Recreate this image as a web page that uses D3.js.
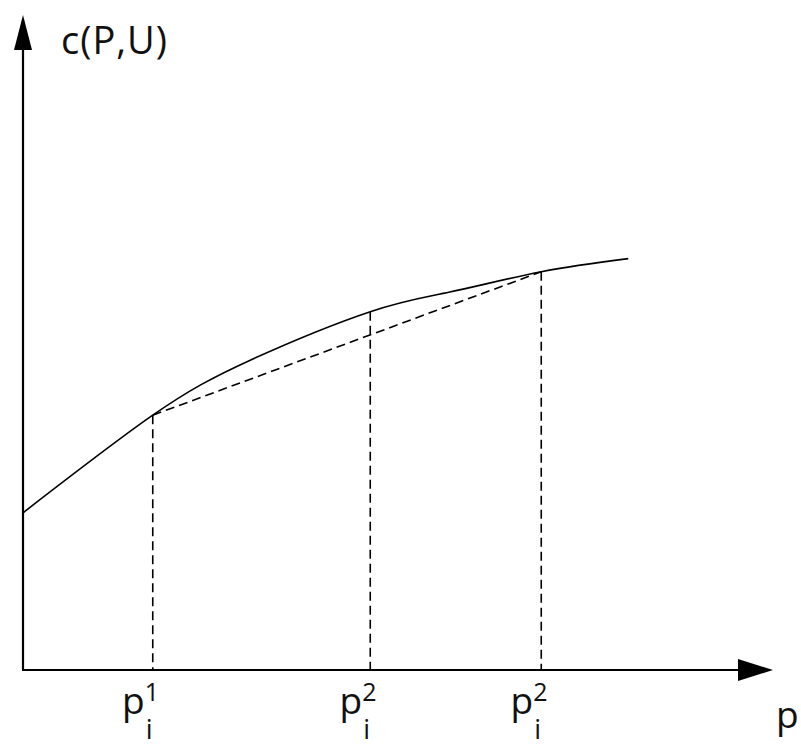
<!DOCTYPE html>
<html>
<head>
<meta charset="utf-8">
<script src="https://cdn.jsdelivr.net/npm/d3@7"></script>
<style>
  body { margin: 0; background: #fff; }
  text { font-family: "Open Sans", sans-serif; fill: #111; }
</style>
</head>
<body>
<div id="chart"></div>
<script>
var width = 801,
    height = 755;

// curve c(P,U)
var curveP = [0, 17.3, 30.3, 46.3, 56.9, 69.1, 80.7];
var curveC = [24.0, 38.9, 47.3, 54.7, 57.7, 60.8, 62.8];

// marked prices on the p axis
var markP = [17.3, 46.3, 69.1];
var markC = [38.9, 54.7, 60.8];
var markSup = ["1", "2", "2"];
var markSub = ["i", "i", "i"];

var yLabel = "c(P,U)",
    xLabel = "p";

var x = d3.scaleLinear().domain([0, 100]).range([23, 773]);
var y = d3.scaleLinear().domain([0, 100]).range([670, 15]);

var svg = d3.select("#chart").append("svg")
    .attr("width", width)
    .attr("height", height);

// axes
svg.append("line")
    .attr("x1", x(0)).attr("y1", y(0))
    .attr("x2", x(0)).attr("y2", y(100) + 20)
    .style("stroke", "#000").style("stroke-width", 2.2);
svg.append("line")
    .attr("x1", x(0) - 1).attr("y1", y(0))
    .attr("x2", x(100) - 20).attr("y2", y(0))
    .style("stroke", "#000").style("stroke-width", 2.2);

// arrow heads
svg.append("path")
    .attr("d", "M" + x(0) + "," + y(100) + "L" + (x(0) + 9) + "," + (y(100) + 35) +
               "L" + (x(0) - 9) + "," + (y(100) + 35) + "Z")
    .style("fill", "#000");
svg.append("path")
    .attr("d", "M" + x(100) + "," + y(0) + "L" + (x(100) - 35) + "," + (y(0) - 11) +
               "L" + (x(100) - 35) + "," + (y(0) + 11) + "Z")
    .style("fill", "#000");

// dashed drop lines
svg.selectAll("line.drop")
    .data(markP)
  .enter().append("line")
    .attr("class", "drop")
    .attr("x1", function(d) { return x(d); })
    .attr("x2", function(d) { return x(d); })
    .attr("y1", function(d, i) { return y(markC[i]); })
    .attr("y2", y(0))
    .style("stroke", "#000")
    .style("stroke-width", 1.6)
    .style("stroke-dasharray", "9,5");

// dashed chord between first and last mark
svg.append("line")
    .attr("x1", x(markP[0])).attr("y1", y(markC[0]))
    .attr("x2", x(markP[2])).attr("y2", y(markC[2]))
    .style("stroke", "#000")
    .style("stroke-width", 1.6)
    .style("stroke-dasharray", "9,5");

// the curve
var line = d3.line()
    .x(function(d) { return x(d[0]); })
    .y(function(d) { return y(d[1]); })
    .curve(d3.curveNatural);

svg.append("path")
    .datum(d3.zip(curveP, curveC))
    .attr("d", line)
    .style("fill", "none")
    .style("stroke", "#000")
    .style("stroke-width", 1.6);

// labels
svg.append("text")
    .attr("x", 61).attr("y", 54)
    .style("font-size", "38px")
    .style("letter-spacing", "1px")
    .text(yLabel);

svg.append("text")
    .attr("x", 776).attr("y", 728)
    .style("font-size", "37px")
    .text(xLabel);

var lab = svg.selectAll("g.lab")
    .data(markP)
  .enter().append("g")
    .attr("class", "lab");

lab.append("text")
    .attr("x", function(d) { return x(d) - 8; })
    .attr("y", 714)
    .attr("text-anchor", "end")
    .style("font-size", "37px")
    .text(xLabel);
lab.append("text")
    .attr("x", function(d) { return x(d) - 8; })
    .attr("y", 701)
    .style("font-size", "25px")
    .text(function(d, i) { return markSup[i]; });
lab.append("text")
    .attr("x", function(d) { return x(d) - 7; })
    .attr("y", 739)
    .style("font-size", "27px")
    .text(function(d, i) { return markSub[i]; });
</script>
</body>
</html>
